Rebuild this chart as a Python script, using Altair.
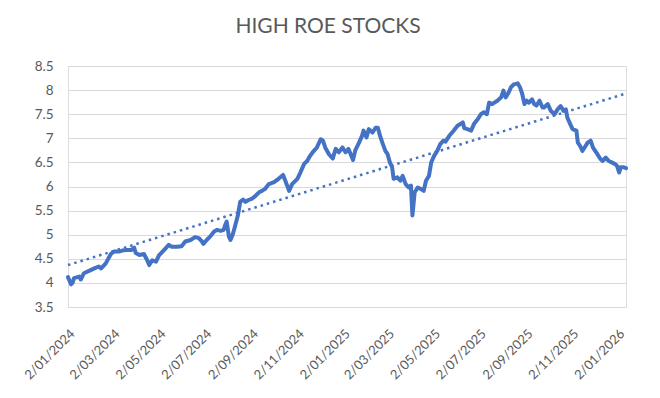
import altair as alt
import pandas as pd

# Closes (date, value)
dates = [
    "2024-01-02", "2024-01-06", "2024-01-08", "2024-01-10", "2024-01-17", "2024-01-19",
    "2024-01-23", "2024-01-30", "2024-02-06", "2024-02-12", "2024-02-15", "2024-02-21",
    "2024-02-28", "2024-03-03", "2024-03-10", "2024-03-14", "2024-03-19", "2024-03-26",
    "2024-03-30", "2024-04-01", "2024-04-06", "2024-04-12", "2024-04-16", "2024-04-19",
    "2024-04-23", "2024-04-28", "2024-05-02", "2024-05-08", "2024-05-15", "2024-05-19",
    "2024-05-26", "2024-06-01", "2024-06-06", "2024-06-13", "2024-06-19", "2024-06-24",
    "2024-06-28", "2024-06-30", "2024-07-05", "2024-07-09", "2024-07-14", "2024-07-18",
    "2024-07-23", "2024-07-27", "2024-07-29", "2024-07-31", "2024-08-03", "2024-08-05",
    "2024-08-08", "2024-08-11", "2024-08-15", "2024-08-18", "2024-08-22", "2024-08-25",
    "2024-08-29", "2024-09-03", "2024-09-07", "2024-09-12", "2024-09-16", "2024-09-20",
    "2024-09-25", "2024-10-02", "2024-10-08", "2024-10-14", "2024-10-17", "2024-10-22",
    "2024-10-26", "2024-11-02", "2024-11-06", "2024-11-11", "2024-11-15", "2024-11-19",
    "2024-11-24", "2024-11-28", "2024-12-03", "2024-12-06", "2024-12-09", "2024-12-14",
    "2024-12-19", "2024-12-23", "2024-12-27", "2025-01-01", "2025-01-05", "2025-01-09",
    "2025-01-15", "2025-01-18", "2025-01-23", "2025-01-27", "2025-01-29", "2025-02-02",
    "2025-02-05", "2025-02-10", "2025-02-14", "2025-02-17", "2025-02-20", "2025-02-23",
    "2025-02-27", "2025-03-02", "2025-03-05", "2025-03-08", "2025-03-10", "2025-03-15",
    "2025-03-19", "2025-03-22", "2025-03-26", "2025-03-30", "2025-04-02", "2025-04-04",
    "2025-04-07", "2025-04-11", "2025-04-15", "2025-04-19", "2025-04-22", "2025-04-26",
    "2025-04-29", "2025-05-03", "2025-05-07", "2025-05-11", "2025-05-15", "2025-05-18",
    "2025-05-23", "2025-05-25", "2025-05-29", "2025-06-03", "2025-06-07", "2025-06-10",
    "2025-06-12", "2025-06-16", "2025-06-21", "2025-06-25", "2025-06-30", "2025-07-04",
    "2025-07-08", "2025-07-12", "2025-07-15", "2025-07-19", "2025-07-22", "2025-07-26",
    "2025-07-31", "2025-08-03", "2025-08-06", "2025-08-10", "2025-08-13", "2025-08-17",
    "2025-08-22", "2025-08-25", "2025-08-28", "2025-08-31", "2025-09-03", "2025-09-06",
    "2025-09-10", "2025-09-13", "2025-09-16", "2025-09-20", "2025-09-24", "2025-09-26",
    "2025-10-01", "2025-10-05", "2025-10-10", "2025-10-14", "2025-10-18", "2025-10-22",
    "2025-10-25", "2025-10-27", "2025-10-31", "2025-11-03", "2025-11-08", "2025-11-10",
    "2025-11-13", "2025-11-16", "2025-11-19", "2025-11-23", "2025-11-27", "2025-11-30",
    "2025-12-03", "2025-12-06", "2025-12-10", "2025-12-13", "2025-12-17", "2025-12-21",
    "2025-12-25", "2025-12-29", "2026-01-01", "2026-01-04", "2026-01-06", "2026-01-10",
    "2026-01-13",
]
values = [
    4.12, 3.97, 4.00, 4.10, 4.13, 4.07,
    4.20, 4.25, 4.30, 4.34, 4.30, 4.40,
    4.60, 4.65, 4.65, 4.67, 4.68, 4.68,
    4.73, 4.62, 4.58, 4.60, 4.48, 4.37,
    4.47, 4.44, 4.57, 4.67, 4.79, 4.75,
    4.75, 4.76, 4.86, 4.89, 4.95, 4.93,
    4.86, 4.81, 4.90, 4.96, 5.06, 5.10,
    5.08, 5.10, 5.20, 5.27, 4.96, 4.89,
    5.00, 5.17, 5.41, 5.68, 5.73, 5.68,
    5.72, 5.75, 5.80, 5.88, 5.91, 5.95,
    6.05, 6.09, 6.16, 6.24, 6.12, 5.91,
    6.05, 6.16, 6.29, 6.47, 6.53, 6.64,
    6.74, 6.81, 6.98, 6.95, 6.81, 6.67,
    6.58, 6.78, 6.71, 6.81, 6.71, 6.78,
    6.55, 6.75, 6.91, 7.05, 7.16, 7.02,
    7.19, 7.12, 7.22, 7.22, 7.05, 6.91,
    6.74, 6.67, 6.50, 6.40, 6.16, 6.19,
    6.12, 6.22, 6.05, 5.98, 6.02, 5.40,
    5.88, 5.98, 5.95, 5.91, 6.12, 6.22,
    6.50, 6.64, 6.74, 6.88, 6.95, 6.93,
    7.05, 7.09, 7.16, 7.26, 7.30, 7.33,
    7.21, 7.19, 7.16, 7.30, 7.40, 7.50,
    7.54, 7.50, 7.74, 7.71, 7.74, 7.78,
    7.85, 7.99, 7.85, 7.95, 8.06, 8.12,
    8.14, 8.06, 7.92, 7.71, 7.78, 7.74,
    7.81, 7.71, 7.68, 7.78, 7.64, 7.64,
    7.71, 7.57, 7.50, 7.60, 7.67, 7.57,
    7.60, 7.43, 7.29, 7.19, 7.16, 6.91,
    6.84, 6.74, 6.81, 6.91, 6.95, 6.81,
    6.74, 6.67, 6.57, 6.53, 6.60, 6.53,
    6.50, 6.47, 6.43, 6.29, 6.40, 6.40,
    6.38,
]

# Linear trendline end values
trend_dates = ["2024-01-02", "2026-01-13"]
trend_values = [4.37, 7.93]

tick_dates = [
    "2024-01-02", "2024-03-02", "2024-05-02", "2024-07-02", "2024-09-02",
    "2024-11-02", "2025-01-02", "2025-03-02", "2025-05-02", "2025-07-02",
    "2025-09-02", "2025-11-02", "2026-01-02",
]
y_ticks = [3.5, 4.0, 4.5, 5.0, 5.5, 6.0, 6.5, 7.0, 7.5, 8.0, 8.5]
title_text = "HIGH ROE STOCKS"

df = pd.DataFrame({"date": pd.to_datetime(dates), "value": values, "series": "HIGH ROE"})
df_trend = pd.DataFrame({"date": pd.to_datetime(trend_dates), "value": trend_values, "series": "Linear"})


def dt(s):
    y, m, d = s.split("-")
    return alt.DateTime(year=int(y), month=int(m), date=int(d))


BLUE = "#4472C4"
GRAY = "#595959"
FONT = "Lato"

x_enc = alt.X(
    "date:T",
    scale=alt.Scale(domain=[dt(dates[0]), dt(dates[-1])], nice=False),
    axis=alt.Axis(
        values=[dt(s) for s in tick_dates],
        format="%-d/%m/%Y",
        labelAngle=-45,
        labelAlign="right",
        labelBaseline="top",
        labelPadding=20,
        labelFontSize=13,
        labelColor=GRAY,
        labelFont=FONT,
        grid=False,
        ticks=False,
        domain=False,
        title=None,
        labelOverlap=False,
        labelFlush=False,
    ),
)
y_enc = alt.Y(
    "value:Q",
    scale=alt.Scale(domain=[3.5, 8.5], nice=False, zero=False),
    axis=alt.Axis(
        values=y_ticks,
        format=".1~f",
        labelFontSize=13.5,
        labelColor=GRAY,
        labelFont=FONT,
        labelPadding=15,
        labelOverlap=False,
        ticks=False,
        domain=False,
        grid=True,
        gridColor="#d9d9d9",
        gridWidth=1,
        title=None,
    ),
)

line = alt.Chart(df).mark_line(
    color=BLUE, strokeWidth=4, strokeJoin="round", strokeCap="round"
).encode(x=x_enc, y=y_enc)

trend = alt.Chart(df_trend).mark_line(
    color=BLUE, strokeWidth=2.5, strokeDash=[2.5, 4]
).encode(x=x_enc, y=y_enc)

chart = (
    alt.layer(line, trend)
    .properties(
        width=558,
        height=241,
        title=alt.TitleParams(
            title_text,
            fontSize=21,
            font=FONT,
            fontWeight="normal",
            color=GRAY,
            anchor="middle",
            dx=-19,
            offset=22,
        ),
        autosize=alt.AutoSizeParams(type="none"),
        padding={"left": 60, "top": 58, "right": 24, "bottom": 75},
    )
    .configure_view(stroke=None)
    .configure(background="white")
)

chart.save("out.html", embed_options={"renderer": "svg", "actions": False})
